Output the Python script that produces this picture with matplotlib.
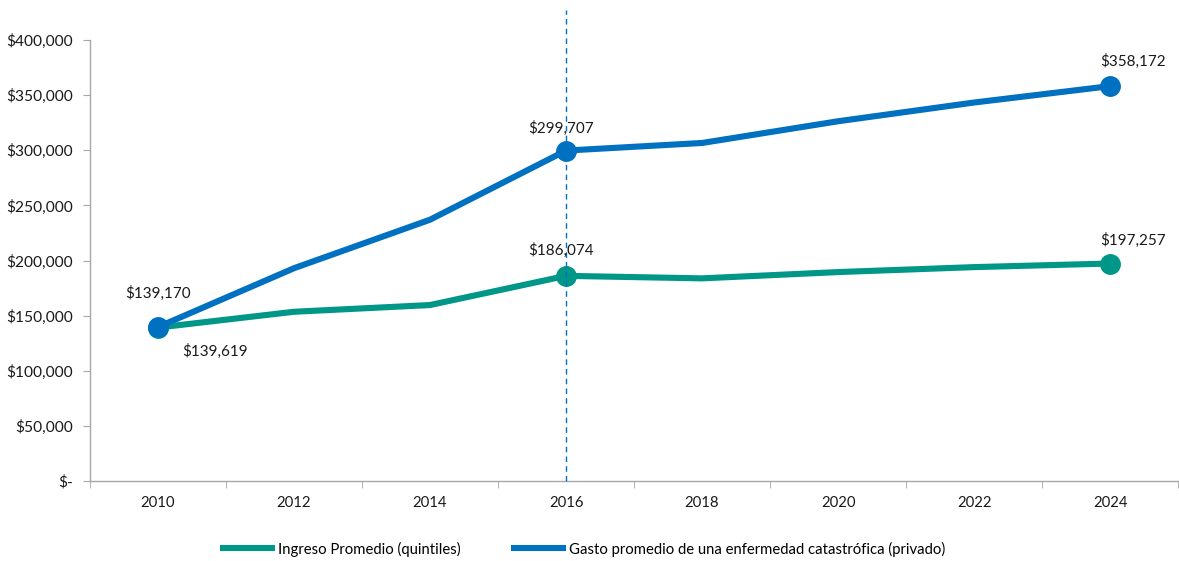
import numpy as np
import matplotlib
matplotlib.use("Agg")
import matplotlib.pyplot as plt
from matplotlib.ticker import FuncFormatter, MultipleLocator

# Data
years = ["2010", "2012", "2014", "2016", "2018", "2020", "2022", "2024"]
ingreso = [139170, 153500, 159600, 186074, 183800, 189500, 194000, 197257]
gasto = [139619, 193000, 237000, 299707, 306600, 326300, 343300, 358172]

label_ingreso = "Ingreso Promedio (quintiles)"
label_gasto = "Gasto promedio de una enfermedad catastrófica (privado)"

TEAL = "#009688"
BLUE = "#0070C0"
TEXT = "#1a1a1a"
AXIS = "#a6a6a6"

plt.rcParams["font.family"] = ["Lato", "DejaVu Sans"]
plt.rcParams["font.size"] = 10.7

fig = plt.figure(figsize=(11.79, 5.61), dpi=100)
ax = fig.add_axes([0.0763, 0.1426, 0.9230, 0.7861])

x = np.arange(len(years))
ax.plot(x, ingreso, color=TEAL, linewidth=4.4, marker="o", markersize=14,
        markevery=[0, 3, 7], solid_capstyle="butt", label=label_ingreso, zorder=3)
ax.plot(x, gasto, color=BLUE, linewidth=4.4, marker="o", markersize=14,
        markevery=[0, 3, 7], solid_capstyle="butt", label=label_gasto, zorder=4)

# dashed marker line at 2016
ax.axvline(3, ymin=0, ymax=1.068, color=BLUE, linestyle=(0, (4, 3)), linewidth=1.0,
           clip_on=False, zorder=5)

# value labels (pixel offsets)
def lab(xi, yi, txt, dx, dy):
    ax.annotate(txt, (xi, yi), xytext=(dx, dy), textcoords="offset pixels",
                ha="center", va="center", fontsize=11, color=TEXT, zorder=6)

lab(0, ingreso[0], "$139,170", 0, 34)
lab(0, gasto[0], "$139,619", 57, -24)
lab(3, gasto[3], "$299,707", -5, 22)
lab(3, ingreso[3], "$186,074", -5, 26)
lab(7, gasto[7], "$358,172", 23, 25)
lab(7, ingreso[7], "$197,257", 23, 23)

ax.set_xlim(-0.5, len(years) - 0.5)
ax.set_ylim(0, 400000)

ax.set_xticks(x)
ax.set_xticklabels(years, fontsize=10.7, color=TEXT)
ax.set_xticks(np.arange(-0.5, len(years)), minor=True)
ax.tick_params(axis="x", which="major", length=0, pad=11)
ax.tick_params(axis="x", which="minor", length=5, color=AXIS, direction="out")

ax.yaxis.set_major_locator(MultipleLocator(50000))
ax.yaxis.set_major_formatter(FuncFormatter(lambda v, p: "$-" if v == 0 else f"${v:,.0f}"))
ax.tick_params(axis="y", length=5, color=AXIS, direction="out", pad=7, labelsize=11.2,
               labelcolor=TEXT)

for side in ["top", "right"]:
    ax.spines[side].set_visible(False)
for side in ["left", "bottom"]:
    ax.spines[side].set_color(AXIS)
    ax.spines[side].set_linewidth(1.0)

fig.legend(handles=ax.get_lines()[:2], labels=[label_ingreso, label_gasto],
           loc="lower center", bbox_to_anchor=(0.494, -0.016), ncol=2, frameon=False,
           fontsize=10.7, handlelength=3.7, handletextpad=0.2, columnspacing=3.4)
leg = fig.legends[0]
for h in leg.legend_handles:
    h.set_marker("")

fig.savefig("out.png", dpi=100, facecolor="white")
